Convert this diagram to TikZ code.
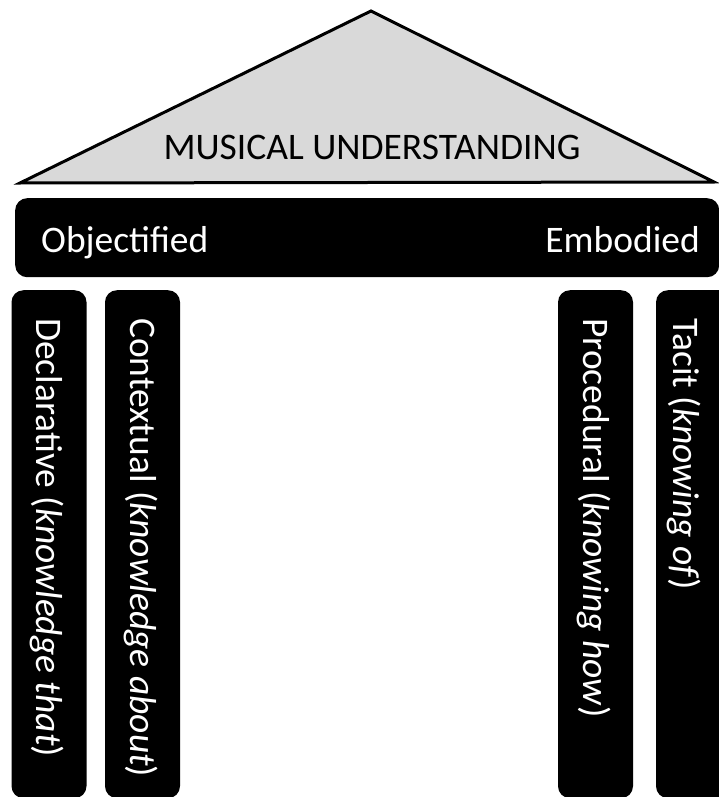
\documentclass[tikz,border=0pt]{standalone}
\usepackage{fontspec}
\setmainfont{Carlito}
\usetikzlibrary{positioning}

\begin{document}
\begin{tikzpicture}
    [x=1pt, y=-1pt,
    every node/.style={font=\fontsize{37.5}{45}\selectfont, inner sep=0pt},
    roof/.style={draw=black, line width=3pt, fill=black!15, line join=miter},
    beam/.style={fill=black, rounded corners=12pt, minimum width=704pt, minimum height=79pt},
    beamlabel/.style={text=white},
    pillar/.style={fill=black, rounded corners=12pt, rotate=-90, anchor=west,
        minimum width=508pt, minimum height=75pt},
    pillarlabel/.style={text=white, rotate=-90, anchor=west}
    ]
    \useasboundingbox (0,0) rectangle (719,797);

    % roof
    \coordinate (eaveL) at (20,183);
    \coordinate (ridge) at (371,11);
    \coordinate (eaveR) at (714,182);
    \draw [roof] (eaveL) -- (ridge) -- (eaveR) -- cycle;
    \node (title) [anchor=base] at (372,159) {MUSICAL UNDERSTANDING};

    % beam
    \node (beam) [beam, anchor=north west] at (15,198) {};
    \node (objectified) [beamlabel, anchor=base west] at (41,252) {Objectified};
    \node (embodied) [beamlabel, anchor=base east] at (700,252) {Embodied};

    % pillars
    \node (declarative) [pillar] at (49,290) {};
    \node (contextual) [pillar] at (142.5,290) {};
    \node (procedural) [pillar] at (595.5,290) {};
    \node (tacit) [pillar] at (693.5,290) {};
    \node (declarativeText) [pillarlabel] at (47,318) {Declarative (\textit{knowledge that})};
    \node (contextualText) [pillarlabel] at (140.5,318) {Contextual (\textit{knowledge about})};
    \node (proceduralText) [pillarlabel] at (593.5,318) {Procedural (\textit{knowing how})};
    \node (tacitText) [pillarlabel] at (684,318) {Tacit (\textit{knowing of})};
\end{tikzpicture}
\end{document}
